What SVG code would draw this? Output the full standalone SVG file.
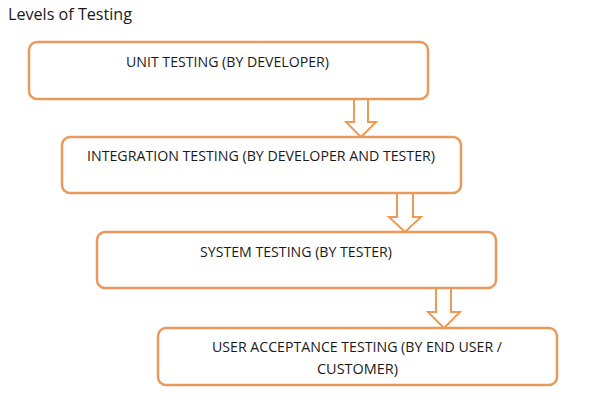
<svg xmlns="http://www.w3.org/2000/svg" width="591" height="406" viewBox="0 0 591 406">
<style>
.box{fill:#fff;stroke:#E9995C;stroke-width:2.5}
.arr{fill:#fff;stroke:#EE9A55;stroke-width:2;stroke-linejoin:miter}
text{font-family:"Open Sans","DejaVu Sans",sans-serif;font-size:14px;fill:#1a1a1a}
.title{font-size:16px}
</style>
<rect width="591" height="406" fill="#fff"/>
<text class="title" x="8" y="20" textLength="124" lengthAdjust="spacingAndGlyphs">Levels of Testing</text>
<g id="connectors">
<path class="arr" d="M354,99 V122 H346 L361,137 L376,122 H368 V99 Z"/>
<path class="arr" d="M397,193 V217 H389 L405,232 L421,217 H413 V193 Z"/>
<path class="arr" d="M436,288 V312 H428 L444,328 L460,312 H451 V288 Z"/>
</g>
<g id="unit">
<rect class="box" x="29" y="42" width="399" height="57" rx="8"/>
<text x="126" y="67" textLength="203" lengthAdjust="spacingAndGlyphs">UNIT TESTING (BY DEVELOPER)</text>
</g>
<g id="integration">
<rect class="box" x="62" y="137" width="399" height="56" rx="8"/>
<text x="87" y="161" textLength="348" lengthAdjust="spacingAndGlyphs">INTEGRATION TESTING (BY DEVELOPER AND TESTER)</text>
</g>
<g id="system">
<rect class="box" x="97" y="232" width="399" height="56" rx="8"/>
<text x="200" y="257" textLength="192" lengthAdjust="spacingAndGlyphs">SYSTEM TESTING (BY TESTER)</text>
</g>
<g id="uat">
<rect class="box" x="158" y="328" width="399" height="57" rx="8"/>
<text x="212" y="352" textLength="290" lengthAdjust="spacingAndGlyphs">USER ACCEPTANCE TESTING (BY END USER /</text>
<text x="317" y="374" textLength="81" lengthAdjust="spacingAndGlyphs">CUSTOMER)</text>
</g>
</svg>
